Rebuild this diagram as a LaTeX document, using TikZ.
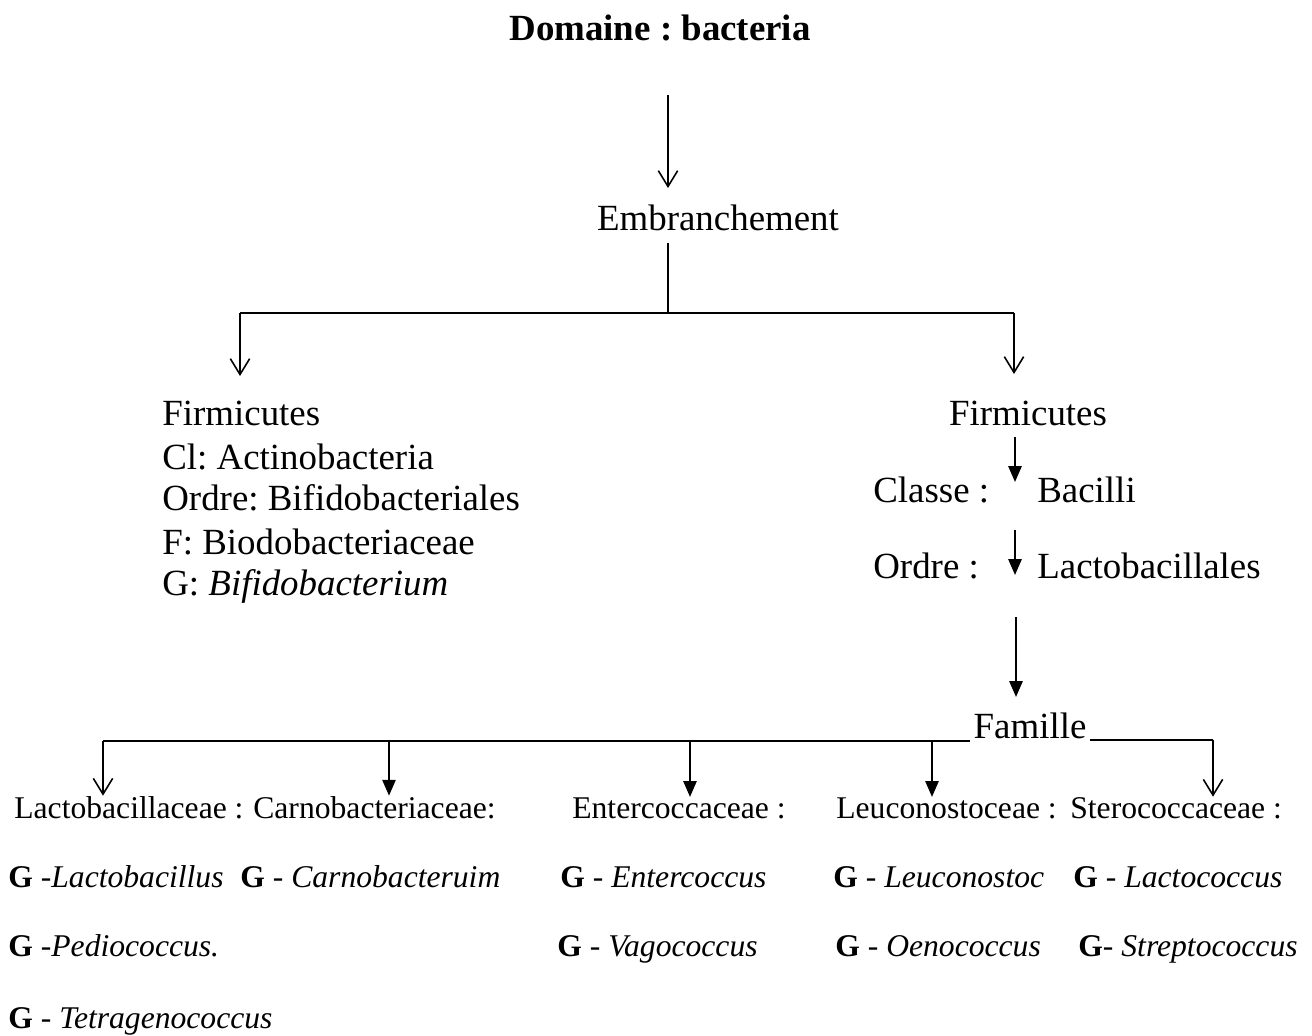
\documentclass[tikz,border=0pt]{standalone}
\usepackage{fontspec}
\setmainfont{Liberation Serif}
\usetikzlibrary{arrows.meta, positioning}
\frenchspacing

\tikzset{
  txt/.style={inner sep=0pt, font=\fontsize{21}{25}\selectfont},
  titletxt/.style={inner sep=0pt, font=\fontsize{21}{25}\selectfont\bfseries},
  famtxt/.style={inner sep=0pt, font=\fontsize{18}{22}\selectfont},
  openarr/.style={line width=0.9pt, -{Straight Barb[length=9pt,width=11pt]}},
  fillarr/.style={line width=1.1pt, -{Triangle[length=9pt,width=7.5pt]}},
  branch/.style={line width=1.5pt},
}

\begin{document}
\begin{tikzpicture}[x=0.02cm, y=-0.02cm]
        \useasboundingbox (0,0) rectangle (1312,1035);

        % --- Domaine et embranchement ---
        \node[titletxt, anchor=base] (dom) at (660,40) {Domaine : bacteria};
        \node[txt, anchor=base] (embr) at (718,230) {Embranchement};
        \coordinate (d0) at (668,95);
        \coordinate (d1) at (668,188);
        \draw[openarr] (d0) -- (d1);

        % Partage en deux branches
        \coordinate (e0) at (668,243);
        \coordinate (eM) at (668,313);
        \coordinate (eL) at (240,313);
        \coordinate (eR) at (1014,313);
        \coordinate (eLb) at (240,376);
        \coordinate (eRb) at (1014,374);
        \draw[line width=0.9pt] (e0) -- (eM);
        \draw[branch] (eL) -- (eR);
        \draw[openarr] (eL) -- (eLb);
        \draw[openarr] (eR) -- (eRb);

        % --- Branche gauche ---
        \node[txt, anchor=base west] (firmL) at (162,425) {Firmicutes};
        \node[txt, anchor=base west] (clL) at (162,469) {Cl: Actinobacteria};
        \node[txt, anchor=base west] (ordL) at (162,510) {Ordre: Bifidobacteriales};
        \node[txt, anchor=base west] (famL) at (162,554) {F: Biodobacteriaceae};
        \node[txt, anchor=base west] (genL) at (162,595) {G: \textit{Bifidobacterium}};

        % --- Branche droite ---
        \node[txt, anchor=base] (firmR) at (1028,425) {Firmicutes};
        \node[txt, anchor=base west] (classe) at (873,502) {Classe :};
        \node[txt, anchor=base west] (bacilli) at (1037,502) {Bacilli};
        \node[txt, anchor=base west] (ordre) at (873,578) {Ordre :};
        \node[txt, anchor=base west] (lactob) at (1037,578) {Lactobacillales};
        \coordinate (r0) at (1015,437);
        \coordinate (r1) at (1015,482);
        \coordinate (r2) at (1015,530);
        \coordinate (r3) at (1015,575);
        \coordinate (r4) at (1016,617);
        \coordinate (r5) at (1016,697);
        \draw[fillarr] (r0) -- (r1);
        \draw[fillarr] (r2) -- (r3);
        \draw[fillarr] (r4) -- (r5);

        % --- Familles ---
        \node[txt, anchor=base] (fam) at (1030,738) {Famille};
        \coordinate (f1) at (103,741);
        \coordinate (f2) at (389,741);
        \coordinate (f3) at (690,741);
        \coordinate (f4) at (932,741);
        \coordinate (f5) at (970,741);
        \coordinate (f6) at (1090,740);
        \coordinate (f7) at (1213,740);
        \draw[branch] (f1) -- (f5);
        \draw[branch] (f6) -- (f7);

        \node[famtxt, anchor=base west] (lacto) at (14,818) {Lactobacillaceae :};
        \node[famtxt, anchor=base west] (carno) at (253,818) {Carnobacteriaceae:};
        \node[famtxt, anchor=base west] (entero) at (572,818) {Entercoccaceae :};
        \node[famtxt, anchor=base west] (leuco) at (836,818) {Leuconostoceae :};
        \node[famtxt, anchor=base west] (strepto) at (1070,818) {Sterococcaceae :};

        \draw[openarr] (f1) -- (lacto.north -| f1);
        \draw[fillarr] (f2) -- (carno.north -| f2);
        \draw[fillarr] (f3) -- (entero.north -| f3);
        \draw[fillarr] (f4) -- (leuco.north -| f4);
        \draw[openarr] (f7) -- (strepto.north -| f7);

        % --- Genres ---
        \node[famtxt, anchor=base west] (g1) at (8,887) {\textbf{G} -\textit{Lactobacillus}};
        \node[famtxt, anchor=base west] (g2) at (8,956) {\textbf{G} -\textit{Pediococcus.}};
        \node[famtxt, anchor=base west] (g3) at (8,1028) {\textbf{G} - \textit{Tetragenococcus}};
        \node[famtxt, anchor=base west] (g4) at (240,887) {\textbf{G} - \textit{Carnobacteruim}};
        \node[famtxt, anchor=base west] (g5) at (560,887) {\textbf{G} - \textit{Entercoccus}};
        \node[famtxt, anchor=base west] (g6) at (557,956) {\textbf{G} - \textit{Vagococcus}};
        \node[famtxt, anchor=base west] (g7) at (833,887) {\textbf{G} - \textit{Leuconostoc}};
        \node[famtxt, anchor=base west] (g8) at (835,956) {\textbf{G} - \textit{Oenococcus}};
        \node[famtxt, anchor=base west] (g9) at (1073,887) {\textbf{G} - \textit{Lactococcus}};
        \node[famtxt, anchor=base west] (g10) at (1078,956) {\textbf{G}- \textit{Streptococcus}};
\end{tikzpicture}
\end{document}
